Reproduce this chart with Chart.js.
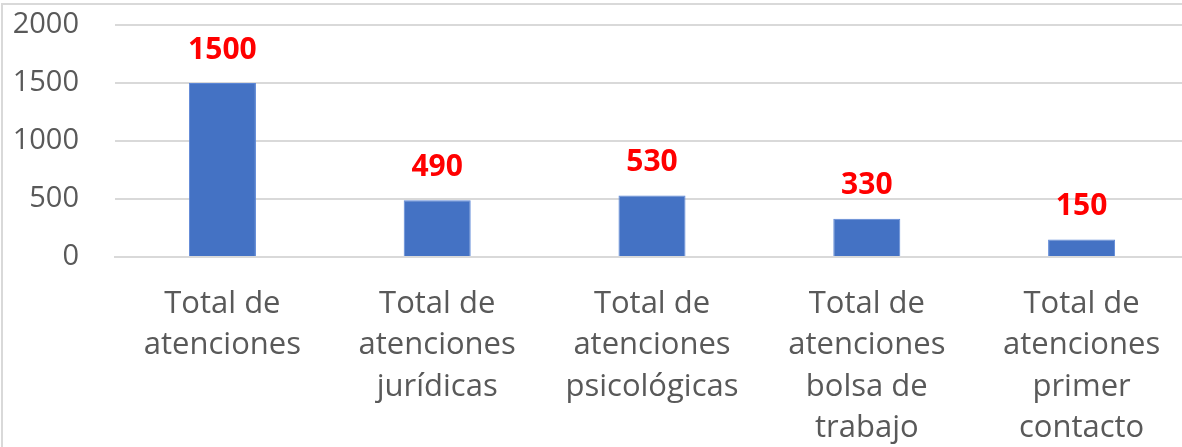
<!DOCTYPE html>
<html lang="es">
<head>
<meta charset="UTF-8">
<title>Total de atenciones</title>
<script src="https://cdn.jsdelivr.net/npm/chart.js"></script>
<style>
  body { margin: 0; background: #fff; overflow: hidden; }
  .marco {
    position: absolute; left: 1px; top: 3px;
    border-left: 2px solid #d9d9d9; border-top: 2px solid #d9d9d9;
    width: 1192px; height: 460px;
  }
  .marco canvas { display: block; }
</style>
</head>
<body>
<div class="marco"><canvas id="grafico" width="1186" height="452"></canvas></div>
<script>
  // categorias (cada una partida en lineas como en el original)
  const categorias = [
    ['Total de', 'atenciones'],
    ['Total de', 'atenciones', 'jurídicas'],
    ['Total de', 'atenciones', 'psicológicas'],
    ['Total de', 'atenciones', 'bolsa de', 'trabajo'],
    ['Total de', 'atenciones', 'primer', 'contacto']
  ];
  const valores = [1500, 490, 530, 330, 150];
  const ticksY = [0, 500, 1000, 1500, 2000];

  // etiquetas rojas encima de cada barra
  const etiquetas = {
    id: 'etiquetas',
    afterDatasetsDraw(chart) {
      const ctx = chart.ctx;
      ctx.save();
      ctx.fillStyle = '#ff0000';
      ctx.font = 'bold 30px "Open Sans"';
      ctx.textAlign = 'center';
      ctx.textBaseline = 'middle';
      chart.getDatasetMeta(0).data.forEach((barra, i) => {
        ctx.fillText(valores[i], barra.x, barra.y - 33);
      });
      ctx.restore();
    }
  };

  new Chart(document.getElementById('grafico'), {
    type: 'bar',
    data: {
      labels: categorias,
      datasets: [{
        data: valores,
        backgroundColor: '#4472c4',
        borderColor: '#5b86d6',
        borderWidth: 1,
        barPercentage: 0.312,
        categoryPercentage: 1
      }]
    },
    options: {
      responsive: false,
      animation: false,
      layout: { padding: { left: 9, top: 20, right: 0, bottom: 0 } },
      plugins: { legend: { display: false }, tooltip: { enabled: false } },
      scales: {
        x: {
          afterFit(scale) { scale.height = 200; },
          grid: { display: false, drawTicks: false },
          border: { color: '#d9d9d9', width: 2 },
          ticks: {
            color: '#595959',
            font: { family: 'Open Sans', size: 31, lineHeight: 1.34 },
            padding: 26,
            maxRotation: 0,
            autoSkip: false
          }
        },
        y: {
          min: 0,
          max: 2000,
          afterBuildTicks(scale) { scale.ticks = ticksY.map(v => ({ value: v })); },
          afterFit(scale) {
            scale.width = 103;
            scale.paddingTop = 0;
            scale.paddingBottom = 0;
          },
          grid: { color: '#d9d9d9', lineWidth: 2, drawTicks: false },
          border: { display: false },
          ticks: {
            color: '#595959',
            font: { family: 'Open Sans', size: 29 },
            padding: 36,
            callback: v => String(v)
          }
        }
      }
    },
    plugins: [etiquetas]
  });
</script>
</body>
</html>
